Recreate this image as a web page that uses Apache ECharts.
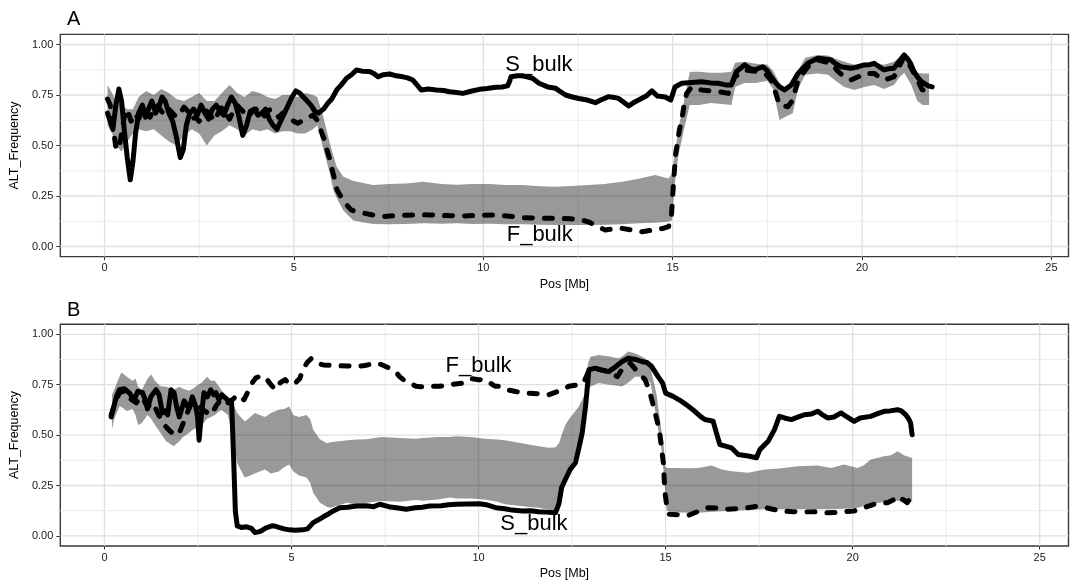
<!DOCTYPE html>
<html><head><meta charset="utf-8">
<script src="https://cdn.jsdelivr.net/npm/echarts@6/dist/echarts.min.js"></script>
<style>html,body{margin:0;padding:0;background:#fff}#c{width:1070px;height:581px}</style>
</head><body><div id="c"></div>
<script>
// ---------- tick values ----------
const xTicks = [0, 5, 10, 15, 20, 25];
const xMinor = [2.5, 7.5, 12.5, 17.5, 22.5];
const yTicks = [0, 0.25, 0.5, 0.75, 1.0];
const yMinor = [0.125, 0.375, 0.625, 0.875];

// ---------- Panel A ----------
const sBulkA = [[0.08,0.66],[0.15,0.62],[0.22,0.58],[0.3,0.70],[0.38,0.78],[0.45,0.72],[0.52,0.58],[0.6,0.44],[0.68,0.33],[0.75,0.42],[0.82,0.56],[0.9,0.66],[1.0,0.70],[1.08,0.64],[1.16,0.68],[1.25,0.72],[1.35,0.66],[1.45,0.70],[1.52,0.74],[1.6,0.72],[1.7,0.66],[1.8,0.62],[1.9,0.54],[2.0,0.44],[2.08,0.48],[2.16,0.60],[2.25,0.66],[2.35,0.68],[2.45,0.65],[2.55,0.70],[2.65,0.66],[2.75,0.63],[2.85,0.68],[2.95,0.70],[3.05,0.67],[3.15,0.65],[3.25,0.70],[3.35,0.74],[3.45,0.71],[3.55,0.64],[3.65,0.55],[3.75,0.60],[3.85,0.67],[3.95,0.68],[4.05,0.65],[4.15,0.66],[4.25,0.68],[4.35,0.63],[4.45,0.60],[4.55,0.58],[4.65,0.62],[4.75,0.66],[4.85,0.70],[4.95,0.74],[5.05,0.77],[5.15,0.76],[5.25,0.74],[5.35,0.72],[5.45,0.70],[5.55,0.67],[5.65,0.66],[5.78,0.68],[5.9,0.71],[6.0,0.73],[6.13,0.775],[6.25,0.80],[6.39,0.833],[6.52,0.85],[6.65,0.874],[6.8,0.868],[7.0,0.866],[7.12,0.855],[7.22,0.84],[7.35,0.85],[7.53,0.854],[7.7,0.845],[7.88,0.84],[8.0,0.835],[8.14,0.824],[8.25,0.80],[8.36,0.775],[8.55,0.78],[8.76,0.775],[8.95,0.772],[9.11,0.766],[9.3,0.762],[9.46,0.758],[9.7,0.77],[9.9,0.778],[10.1,0.782],[10.33,0.788],[10.5,0.79],[10.64,0.795],[10.7,0.82],[10.73,0.84],[10.9,0.845],[11.03,0.845],[11.15,0.84],[11.3,0.833],[11.47,0.808],[11.7,0.79],[11.91,0.783],[12.05,0.765],[12.17,0.75],[12.35,0.74],[12.52,0.733],[12.75,0.725],[12.96,0.712],[13.1,0.725],[13.31,0.742],[13.45,0.738],[13.57,0.733],[13.7,0.715],[13.84,0.696],[13.95,0.71],[14.1,0.725],[14.3,0.745],[14.45,0.77],[14.6,0.745],[14.8,0.74],[14.95,0.725],[15.06,0.79],[15.24,0.808],[15.5,0.812],[15.76,0.816],[16.0,0.81],[16.2,0.808],[16.4,0.80],[16.55,0.80],[16.68,0.865],[16.9,0.899],[17.05,0.88],[17.16,0.874],[17.38,0.89],[17.5,0.87],[17.6,0.84],[17.72,0.81],[17.82,0.79],[17.95,0.775],[18.13,0.80],[18.31,0.857],[18.45,0.885],[18.57,0.907],[18.7,0.92],[18.83,0.932],[19.0,0.928],[19.18,0.923],[19.3,0.905],[19.44,0.89],[19.7,0.882],[19.9,0.89],[20.06,0.899],[20.2,0.90],[20.32,0.907],[20.45,0.89],[20.58,0.874],[20.7,0.88],[20.84,0.882],[20.95,0.91],[21.11,0.948],[21.2,0.93],[21.28,0.907],[21.36,0.87],[21.46,0.84],[21.55,0.82],[21.63,0.808],[21.75,0.795],[21.85,0.79]];

const fBulkA = [[0.08,0.73],[0.15,0.70],[0.22,0.60],[0.3,0.49],[0.38,0.48],[0.45,0.56],[0.52,0.64],[0.6,0.68],[0.7,0.62],[0.8,0.66],[0.9,0.63],[1.0,0.68],[1.1,0.66],[1.2,0.64],[1.3,0.68],[1.4,0.70],[1.5,0.67],[1.6,0.65],[1.7,0.68],[1.8,0.66],[1.9,0.64],[2.0,0.66],[2.1,0.69],[2.2,0.67],[2.3,0.63],[2.4,0.64],[2.5,0.62],[2.6,0.64],[2.7,0.67],[2.8,0.65],[2.9,0.62],[3.0,0.66],[3.1,0.69],[3.2,0.66],[3.3,0.63],[3.4,0.67],[3.5,0.70],[3.6,0.68],[3.7,0.66],[3.8,0.64],[3.9,0.67],[4.0,0.68],[4.1,0.66],[4.2,0.64],[4.3,0.67],[4.4,0.68],[4.5,0.66],[4.6,0.64],[4.7,0.66],[4.8,0.65],[4.9,0.63],[5.0,0.62],[5.1,0.61],[5.2,0.62],[5.3,0.63],[5.4,0.64],[5.5,0.65],[5.6,0.63],[5.7,0.58],[5.8,0.53],[5.87,0.48],[5.95,0.43],[6.01,0.38],[6.08,0.33],[6.14,0.28],[6.23,0.25],[6.33,0.22],[6.42,0.20],[6.51,0.181],[6.7,0.17],[6.87,0.164],[7.1,0.155],[7.32,0.148],[7.6,0.152],[7.97,0.155],[8.3,0.158],[8.58,0.156],[9.0,0.153],[9.46,0.151],[9.9,0.155],[10.33,0.156],[10.7,0.15],[11.03,0.143],[11.5,0.14],[11.91,0.14],[12.3,0.137],[12.61,0.131],[12.8,0.12],[13.0,0.10],[13.22,0.082],[13.45,0.088],[13.66,0.09],[13.9,0.082],[14.19,0.073],[14.35,0.078],[14.54,0.082],[14.75,0.09],[14.89,0.098],[14.97,0.16],[15.02,0.31],[15.08,0.46],[15.18,0.58],[15.24,0.626],[15.3,0.70],[15.37,0.758],[15.5,0.79],[15.76,0.775],[16.0,0.77],[16.2,0.767],[16.47,0.758],[16.55,0.80],[16.64,0.84],[16.9,0.874],[17.25,0.866],[17.45,0.855],[17.6,0.824],[17.72,0.76],[17.82,0.70],[18.04,0.692],[18.17,0.725],[18.31,0.824],[18.45,0.86],[18.57,0.89],[18.83,0.923],[19.18,0.907],[19.35,0.87],[19.53,0.84],[19.7,0.824],[19.9,0.84],[20.06,0.857],[20.32,0.857],[20.45,0.84],[20.58,0.824],[20.84,0.84],[20.98,0.89],[21.11,0.94],[21.25,0.90],[21.37,0.857],[21.5,0.81],[21.59,0.775],[21.72,0.775]];

// [pos, lower, upper]
const bandA = [[0.08,0.60,0.80],[0.2,0.56,0.76],[0.3,0.50,0.72],[0.45,0.47,0.70],[0.6,0.52,0.68],[0.75,0.56,0.68],[0.9,0.58,0.74],[1.1,0.57,0.77],[1.3,0.58,0.75],[1.5,0.55,0.78],[1.7,0.52,0.76],[1.9,0.50,0.73],[2.1,0.55,0.72],[2.3,0.58,0.74],[2.5,0.56,0.76],[2.7,0.50,0.72],[2.9,0.55,0.72],[3.1,0.57,0.76],[3.3,0.60,0.80],[3.5,0.58,0.76],[3.7,0.55,0.74],[3.9,0.58,0.77],[4.1,0.57,0.76],[4.3,0.58,0.74],[4.5,0.56,0.73],[4.7,0.57,0.75],[4.9,0.57,0.75],[5.1,0.56,0.74],[5.3,0.56,0.76],[5.5,0.58,0.75],[5.62,0.60,0.74],[5.78,0.48,0.64],[5.95,0.36,0.51],[6.04,0.28,0.45],[6.13,0.24,0.395],[6.3,0.18,0.346],[6.56,0.13,0.325],[6.8,0.12,0.315],[7.09,0.112,0.304],[7.5,0.11,0.31],[7.97,0.112,0.312],[8.41,0.115,0.32],[8.9,0.113,0.31],[9.29,0.115,0.306],[9.7,0.112,0.31],[10.16,0.113,0.31],[10.6,0.11,0.305],[11.03,0.11,0.304],[11.5,0.108,0.298],[11.91,0.106,0.296],[12.3,0.106,0.30],[12.78,0.106,0.304],[13.2,0.108,0.31],[13.66,0.11,0.32],[14.1,0.115,0.335],[14.54,0.118,0.354],[14.89,0.123,0.337],[14.98,0.13,0.36],[15.05,0.30,0.45],[15.15,0.45,0.58],[15.3,0.58,0.72],[15.45,0.70,0.865],[15.7,0.70,0.865],[16.0,0.71,0.86],[16.3,0.705,0.86],[16.55,0.70,0.865],[16.65,0.79,0.91],[16.9,0.81,0.915],[17.2,0.81,0.905],[17.5,0.82,0.90],[17.65,0.78,0.87],[17.82,0.626,0.81],[17.95,0.64,0.79],[18.17,0.66,0.80],[18.31,0.78,0.87],[18.5,0.85,0.935],[18.83,0.857,0.948],[19.1,0.85,0.945],[19.3,0.82,0.93],[19.53,0.79,0.915],[19.8,0.775,0.90],[20.06,0.79,0.91],[20.32,0.80,0.91],[20.58,0.78,0.90],[20.84,0.80,0.915],[21.0,0.84,0.94],[21.11,0.86,0.956],[21.3,0.80,0.92],[21.46,0.72,0.86],[21.6,0.70,0.857],[21.77,0.70,0.857]];

const labelsA = [['S_bulk', 11.47, 0.90], ['F_bulk', 11.49, 0.058]];

// ---------- Panel B ----------
const sBulkB = [[0.18,0.59],[0.25,0.64],[0.32,0.69],[0.4,0.725],[0.53,0.73],[0.66,0.71],[0.8,0.675],[0.89,0.717],[1.02,0.71],[1.1,0.67],[1.15,0.63],[1.24,0.69],[1.38,0.725],[1.46,0.70],[1.55,0.61],[1.62,0.62],[1.69,0.60],[1.78,0.725],[1.86,0.71],[1.93,0.64],[2.0,0.59],[2.13,0.67],[2.26,0.63],[2.35,0.69],[2.44,0.64],[2.49,0.59],[2.53,0.475],[2.58,0.58],[2.66,0.71],[2.75,0.69],[2.84,0.725],[2.92,0.70],[2.98,0.71],[3.06,0.675],[3.14,0.70],[3.2,0.69],[3.33,0.667],[3.4,0.66],[3.45,0.40],[3.5,0.12],[3.55,0.05],[3.66,0.042],[3.8,0.045],[3.93,0.037],[4.02,0.017],[4.12,0.02],[4.19,0.025],[4.32,0.04],[4.48,0.05],[4.57,0.048],[4.66,0.042],[4.8,0.035],[4.94,0.03],[5.1,0.028],[5.3,0.03],[5.43,0.035],[5.58,0.066],[5.72,0.08],[5.85,0.095],[6.0,0.11],[6.13,0.125],[6.29,0.14],[6.5,0.142],[6.74,0.148],[7.0,0.15],[7.2,0.145],[7.36,0.157],[7.6,0.145],[7.8,0.14],[8.07,0.132],[8.3,0.14],[8.5,0.142],[8.69,0.148],[9.0,0.15],[9.2,0.155],[9.4,0.157],[9.7,0.158],[10.02,0.16],[10.2,0.155],[10.46,0.14],[10.7,0.135],[10.9,0.128],[11.17,0.124],[11.4,0.125],[11.6,0.12],[11.8,0.118],[12.06,0.115],[12.15,0.16],[12.22,0.24],[12.32,0.28],[12.45,0.33],[12.59,0.363],[12.7,0.45],[12.77,0.51],[12.86,0.642],[12.95,0.824],[13.12,0.832],[13.26,0.824],[13.48,0.815],[13.61,0.832],[13.84,0.865],[14.0,0.881],[14.2,0.875],[14.36,0.865],[14.5,0.86],[14.63,0.84],[14.8,0.79],[14.92,0.758],[15.0,0.708],[15.2,0.692],[15.43,0.667],[15.56,0.65],[15.78,0.618],[15.93,0.593],[16.05,0.577],[16.27,0.569],[16.36,0.51],[16.45,0.453],[16.6,0.445],[16.76,0.437],[16.94,0.404],[17.21,0.396],[17.43,0.388],[17.52,0.428],[17.74,0.469],[17.91,0.527],[18.04,0.593],[18.18,0.585],[18.36,0.577],[18.55,0.59],[18.71,0.601],[18.9,0.605],[19.07,0.618],[19.2,0.60],[19.33,0.585],[19.5,0.59],[19.69,0.61],[19.85,0.59],[20.04,0.568],[20.2,0.585],[20.48,0.593],[20.65,0.605],[20.84,0.618],[21.0,0.62],[21.2,0.626],[21.3,0.62],[21.42,0.601],[21.5,0.58],[21.55,0.56],[21.59,0.502]];

const fBulkB = [[0.18,0.60],[0.28,0.66],[0.4,0.71],[0.55,0.72],[0.7,0.68],[0.85,0.66],[1.0,0.69],[1.15,0.64],[1.3,0.66],[1.45,0.60],[1.6,0.55],[1.75,0.52],[1.9,0.50],[2.0,0.51],[2.15,0.58],[2.3,0.65],[2.45,0.66],[2.6,0.63],[2.75,0.61],[2.85,0.60],[3.0,0.65],[3.15,0.68],[3.3,0.66],[3.45,0.68],[3.55,0.70],[3.73,0.675],[3.85,0.72],[3.95,0.76],[4.05,0.784],[4.13,0.79],[4.29,0.79],[4.45,0.75],[4.57,0.725],[4.7,0.76],[4.83,0.775],[4.97,0.75],[5.12,0.762],[5.22,0.78],[5.3,0.824],[5.42,0.86],[5.53,0.88],[5.7,0.855],[5.85,0.848],[6.1,0.845],[6.49,0.843],[6.74,0.84],[6.96,0.845],[7.23,0.857],[7.4,0.85],[7.62,0.832],[7.78,0.815],[7.89,0.79],[8.05,0.766],[8.16,0.758],[8.33,0.742],[8.46,0.74],[8.7,0.742],[8.95,0.742],[9.24,0.75],[9.57,0.758],[9.8,0.78],[10.0,0.775],[10.19,0.774],[10.44,0.742],[10.55,0.742],[10.75,0.725],[10.99,0.716],[11.17,0.71],[11.35,0.708],[11.6,0.705],[11.88,0.70],[12.1,0.715],[12.24,0.725],[12.41,0.742],[12.68,0.75],[12.81,0.76],[12.95,0.82],[13.05,0.835],[13.25,0.825],[13.47,0.815],[13.71,0.79],[13.83,0.825],[13.93,0.84],[14.05,0.857],[14.1,0.85],[14.32,0.80],[14.45,0.775],[14.56,0.725],[14.7,0.626],[14.83,0.527],[14.94,0.363],[14.98,0.22],[15.03,0.15],[15.1,0.107],[15.35,0.105],[15.61,0.102],[15.85,0.12],[16.14,0.14],[16.35,0.138],[16.58,0.132],[16.9,0.135],[17.2,0.14],[17.47,0.148],[17.8,0.135],[18.09,0.124],[18.4,0.12],[18.71,0.119],[19.0,0.12],[19.33,0.115],[19.7,0.118],[20.04,0.124],[20.3,0.14],[20.57,0.157],[20.93,0.165],[21.1,0.18],[21.2,0.198],[21.35,0.18],[21.46,0.165],[21.59,0.206]];

const bandB = [[0.2,0.527,0.70],[0.26,0.58,0.725],[0.4,0.642,0.79],[0.45,0.64,0.81],[0.6,0.62,0.79],[0.75,0.63,0.77],[0.83,0.60,0.78],[0.9,0.55,0.74],[1.0,0.56,0.725],[1.15,0.60,0.78],[1.25,0.58,0.80],[1.35,0.55,0.77],[1.5,0.51,0.742],[1.65,0.47,0.74],[1.85,0.445,0.725],[2.0,0.47,0.74],[2.1,0.49,0.73],[2.26,0.51,0.72],[2.36,0.527,0.73],[2.5,0.54,0.75],[2.6,0.55,0.76],[2.74,0.58,0.79],[2.85,0.59,0.77],[2.95,0.60,0.77],[3.12,0.626,0.725],[3.3,0.60,0.68],[3.42,0.50,0.66],[3.55,0.36,0.61],[3.75,0.29,0.568],[3.9,0.30,0.59],[4.02,0.31,0.61],[4.15,0.32,0.60],[4.29,0.33,0.59],[4.45,0.31,0.61],[4.66,0.32,0.626],[4.8,0.34,0.63],[4.94,0.354,0.642],[5.05,0.32,0.60],[5.2,0.30,0.59],[5.4,0.29,0.60],[5.5,0.264,0.58],[5.58,0.214,0.527],[5.76,0.165,0.48],[5.94,0.145,0.46],[6.04,0.14,0.465],[6.49,0.165,0.474],[6.74,0.155,0.478],[7.0,0.165,0.48],[7.41,0.173,0.49],[7.9,0.17,0.486],[8.33,0.178,0.482],[8.5,0.175,0.486],[8.9,0.18,0.49],[9.24,0.19,0.49],[9.4,0.185,0.494],[9.8,0.186,0.49],[10.16,0.181,0.482],[10.5,0.17,0.478],[10.7,0.157,0.475],[11.08,0.15,0.462],[11.3,0.145,0.455],[11.6,0.14,0.445],[11.88,0.13,0.437],[12.06,0.124,0.44],[12.15,0.16,0.46],[12.24,0.214,0.51],[12.32,0.296,0.55],[12.41,0.33,0.577],[12.59,0.395,0.62],[12.68,0.45,0.642],[12.86,0.658,0.708],[12.92,0.72,0.85],[12.99,0.741,0.889],[13.21,0.758,0.897],[13.5,0.75,0.89],[13.73,0.745,0.881],[13.83,0.741,0.889],[14.0,0.76,0.914],[14.18,0.79,0.906],[14.36,0.79,0.89],[14.45,0.79,0.881],[14.6,0.758,0.84],[14.63,0.725,0.807],[14.76,0.577,0.70],[14.8,0.53,0.642],[14.89,0.43,0.52],[14.94,0.33,0.478],[14.98,0.247,0.346],[15.03,0.124,0.337],[15.3,0.118,0.337],[15.6,0.115,0.335],[15.87,0.115,0.337],[16.23,0.12,0.349],[16.5,0.122,0.33],[16.76,0.124,0.321],[17.21,0.128,0.313],[17.65,0.132,0.329],[18.1,0.132,0.335],[18.53,0.132,0.346],[19.07,0.132,0.349],[19.42,0.132,0.337],[19.77,0.135,0.354],[20.13,0.14,0.337],[20.3,0.148,0.35],[20.48,0.155,0.379],[20.84,0.17,0.395],[21.02,0.181,0.40],[21.2,0.175,0.42],[21.37,0.165,0.40],[21.59,0.17,0.387]];

const labelsB = [['F_bulk', 10.0, 0.842], ['S_bulk', 11.48, 0.059]];

const panelTitles = ['A', 'B'];
const xName = 'Pos [Mb]';
const yName = 'ALT_Frequency';

// ---------- build ----------
const FONT = 'Liberation Sans, Arial, Helvetica, sans-serif';
const gridLineData = [];
xTicks.forEach(v => gridLineData.push([v, 0, 1]));
xMinor.forEach(v => gridLineData.push([v, 0, 0]));
yTicks.forEach(v => gridLineData.push([v, 1, 1]));
yMinor.forEach(v => gridLineData.push([v, 1, 0]));

function gridSeries(i) {
  return {
    type: 'custom', xAxisIndex: i, yAxisIndex: i, z: 1, silent: true, animation: false,
    data: gridLineData,
    renderItem: function (params, api) {
      const v = api.value(0), o = api.value(1), maj = api.value(2);
      const cs = params.coordSys;
      let shape;
      if (o === 0) {
        const px = api.coord([v, 0.5])[0];
        shape = { x1: px, y1: cs.y, x2: px, y2: cs.y + cs.height };
      } else {
        const py = api.coord([10, v])[1];
        shape = { x1: cs.x, y1: py, x2: cs.x + cs.width, y2: py };
      }
      return { type: 'line', shape: shape,
        style: { stroke: maj ? '#e0e0e0' : '#ececec', lineWidth: maj ? 1.3 : 1 } };
    }
  };
}
function bandSeries(i, band) {
  return {
    type: 'custom', xAxisIndex: i, yAxisIndex: i, z: 2, silent: true, animation: false,
    data: band.map(d => [d[0], d[1], d[2]]),
    renderItem: function (params, api) {
      if (params.dataIndex !== 0) return null;
      const pts = [];
      band.forEach(d => pts.push(api.coord([d[0], d[2]])));
      for (let k = band.length - 1; k >= 0; k--) pts.push(api.coord([band[k][0], band[k][1]]));
      return { type: 'polygon', shape: { points: pts }, style: { fill: 'rgba(0,0,0,0.4)' } };
    }
  };
}
function lineSeries(i, data, dashed) {
  return {
    type: 'line', xAxisIndex: i, yAxisIndex: i, z: 3, silent: true, animation: false,
    data: data, showSymbol: false, symbol: 'none',
    lineStyle: { color: '#000', width: 5, join: 'round', cap: 'round',
      type: dashed ? [8, 12] : 'solid' }
  };
}
function labelSeries(i, labels) {
  return {
    type: 'custom', xAxisIndex: i, yAxisIndex: i, z: 4, silent: true, animation: false,
    data: labels.map(l => [l[1], l[2], l[0]]),
    renderItem: function (params, api) {
      const p = api.coord([api.value(0), api.value(1)]);
      return { type: 'text', x: p[0], y: p[1],
        style: { text: labels[params.dataIndex][0], fontSize: 22, fontFamily: FONT,
          fill: '#000', align: 'center', verticalAlign: 'middle' } };
    }
  };
}

const grids = [
  { left: 55.8, top: 34.4, width: 1012.7, height: 222.2 },
  { left: 55.8, top: 324.2, width: 1012.7, height: 222.6 }
];
const xRanges = [[-1.167, 25.45], [-1.18, 25.77]];

function xAxis(i) {
  return {
    type: 'value', gridIndex: i, min: xRanges[i][0], max: xRanges[i][1],
    axisLine: { show: false, onZero: false }, splitLine: { show: false },
    axisTick: { show: true, length: 3.5, customValues: xTicks, lineStyle: { color: '#333', width: 1 } },
    axisLabel: { customValues: xTicks, fontSize: 11, color: '#1a1a1a', fontFamily: FONT, margin: 6 },
    name: xName, nameLocation: 'middle', nameGap: 21,
    nameTextStyle: { fontSize: 12.5, color: '#000', fontFamily: FONT }
  };
}
function yAxis(i) {
  return {
    type: 'value', gridIndex: i, min: -0.05, max: 1.05,
    axisLine: { show: false, onZero: false }, splitLine: { show: false },
    axisTick: { show: true, length: 4, customValues: yTicks, lineStyle: { color: '#333', width: 1 } },
    axisLabel: { customValues: yTicks, fontSize: 11, color: '#1a1a1a', fontFamily: FONT, margin: 7,
      formatter: v => v.toFixed(2) },
    name: yName, nameLocation: 'middle', nameGap: 31,
    nameTextStyle: { fontSize: 12.5, color: '#000', fontFamily: FONT }
  };
}

const chart = echarts.init(document.getElementById('c'), null, { renderer: 'canvas' });
chart.setOption({
  backgroundColor: '#fff',
  animation: false,
  title: panelTitles.map((t, i) => ({ text: t, left: 67, top: i === 0 ? 9 : 300, padding: 0,
    textStyle: { fontSize: 20, fontWeight: 'normal', color: '#000', fontFamily: FONT } })),
  grid: grids.map(g => Object.assign({ show: true, borderColor: '#3a3a3a', borderWidth: 1.4,
    backgroundColor: 'transparent', containLabel: false }, g)),
  xAxis: [xAxis(0), xAxis(1)],
  yAxis: [yAxis(0), yAxis(1)],
  series: [
    gridSeries(0), bandSeries(0, bandA), lineSeries(0, sBulkA, false), lineSeries(0, fBulkA, true), labelSeries(0, labelsA),
    gridSeries(1), bandSeries(1, bandB), lineSeries(1, sBulkB, false), lineSeries(1, fBulkB, true), labelSeries(1, labelsB)
  ]
});
</script></body></html>
